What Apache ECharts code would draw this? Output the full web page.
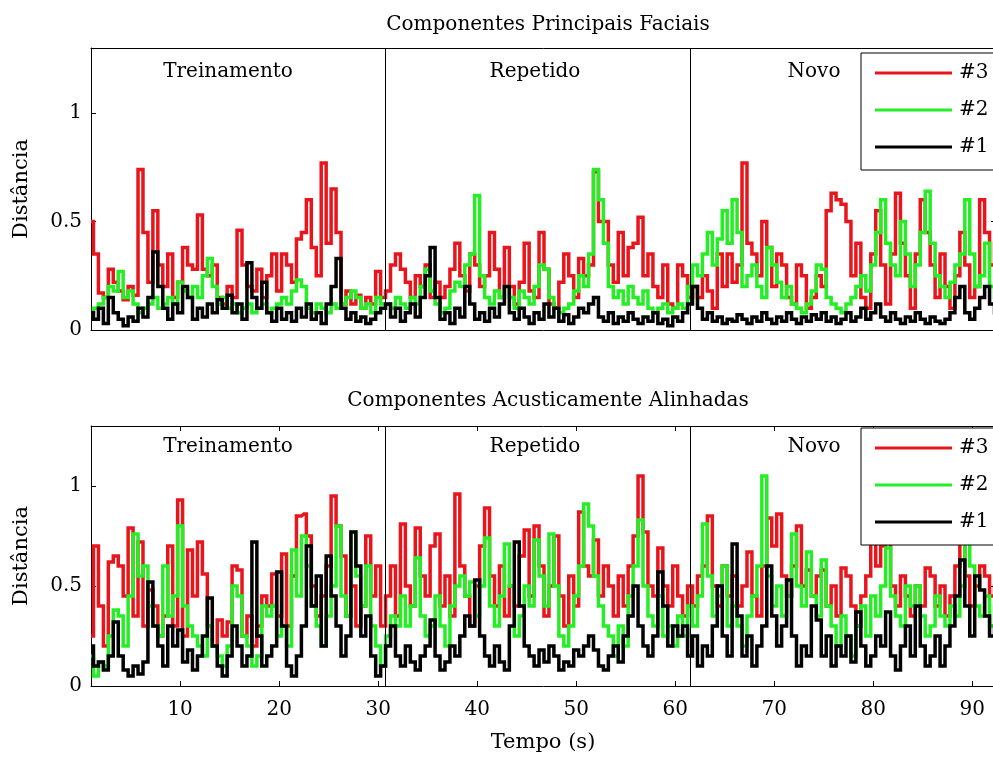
<!DOCTYPE html>
<html>
<head>
<meta charset="utf-8">
<title>Componentes Principais Faciais / Componentes Acusticamente Alinhadas</title>
<script src="https://cdn.jsdelivr.net/npm/echarts@6/dist/echarts.min.js"></script>
<style>
  html, body { margin: 0; padding: 0; background: #fff; overflow: hidden; }
  #chart { width: 1000px; height: 758px; }
</style>
</head>
<body>
<div id="chart"></div>
<script>
// Sampling of every distance series: first sample time and step (seconds)
const t0 = 1;
const dt = 0.5;

// Segment boundaries (s) and segment names
const sectionBounds = [30.7, 61.5];
const sections = ['Treinamento', 'Repetido', 'Novo'];

// Tick values
const xTicks = [10, 20, 30, 40, 50, 60, 70, 80, 90];
const yTicks = [0, 0.5, 1];

// Componentes Principais Faciais
const topRed = [
  0.50,0.35,0.17,0.15,0.28,0.22,0.18,0.14,0.20,0.16,
  0.74,0.45,0.22,0.55,0.30,0.20,0.35,0.15,0.22,0.38,
  0.30,0.28,0.53,0.28,0.25,0.30,0.15,0.12,0.20,0.15,
  0.46,0.30,0.20,0.18,0.28,0.15,0.25,0.35,0.18,0.35,
  0.30,0.22,0.42,0.45,0.60,0.38,0.25,0.77,0.40,0.65,
  0.45,0.12,0.18,0.12,0.16,0.10,0.15,0.12,0.27,0.15,
  0.18,0.30,0.35,0.28,0.22,0.15,0.25,0.20,0.30,0.15,
  0.22,0.15,0.20,0.28,0.40,0.25,0.18,0.35,0.30,0.20,
  0.25,0.45,0.28,0.15,0.38,0.20,0.12,0.22,0.40,0.18,
  0.15,0.45,0.28,0.12,0.10,0.22,0.35,0.25,0.15,0.33,
  0.25,0.30,0.73,0.50,0.50,0.30,0.22,0.45,0.25,0.38,
  0.40,0.52,0.25,0.35,0.20,0.15,0.30,0.12,0.10,0.30,
  0.25,0.15,0.20,0.15,0.25,0.18,0.10,0.35,0.20,0.35,
  0.22,0.30,0.77,0.40,0.35,0.25,0.50,0.38,0.20,0.35,
  0.30,0.15,0.12,0.30,0.25,0.10,0.15,0.25,0.20,0.55,
  0.63,0.60,0.58,0.50,0.25,0.40,0.15,0.10,0.35,0.55,
  0.30,0.12,0.35,0.63,0.40,0.25,0.10,0.35,0.60,0.45,
  0.30,0.15,0.35,0.20,0.10,0.25,0.45,0.30,0.15,0.20,
  0.60,0.45,0.30,0.40
];
const topGreen = [
  0.08,0.10,0.12,0.15,0.20,0.18,0.27,0.15,0.18,0.12,
  0.08,0.10,0.12,0.15,0.10,0.12,0.15,0.12,0.22,0.18,
  0.15,0.20,0.15,0.25,0.33,0.20,0.12,0.15,0.10,0.12,
  0.08,0.10,0.12,0.08,0.10,0.12,0.08,0.10,0.12,0.15,
  0.12,0.18,0.23,0.20,0.10,0.08,0.12,0.10,0.08,0.12,
  0.10,0.12,0.15,0.18,0.15,0.10,0.12,0.08,0.15,0.12,
  0.12,0.10,0.15,0.12,0.10,0.15,0.12,0.20,0.28,0.18,
  0.12,0.08,0.10,0.18,0.22,0.20,0.30,0.35,0.62,0.25,
  0.15,0.12,0.18,0.15,0.20,0.15,0.10,0.18,0.15,0.12,
  0.20,0.30,0.28,0.15,0.10,0.08,0.10,0.12,0.18,0.25,
  0.20,0.35,0.74,0.60,0.40,0.20,0.15,0.18,0.12,0.20,
  0.15,0.12,0.18,0.10,0.08,0.10,0.12,0.08,0.10,0.12,
  0.10,0.20,0.30,0.25,0.35,0.45,0.30,0.42,0.55,0.40,
  0.60,0.45,0.20,0.25,0.30,0.20,0.15,0.38,0.30,0.22,
  0.15,0.20,0.12,0.10,0.08,0.12,0.18,0.30,0.28,0.15,
  0.12,0.10,0.08,0.12,0.15,0.20,0.25,0.18,0.30,0.45,
  0.60,0.40,0.30,0.25,0.50,0.35,0.20,0.30,0.45,0.64,
  0.40,0.25,0.20,0.15,0.22,0.30,0.35,0.60,0.35,0.20,
  0.25,0.40,0.20,0.15
];
const topBlack = [
  0.08,0.05,0.10,0.03,0.15,0.08,0.05,0.02,0.06,0.04,
  0.10,0.06,0.15,0.36,0.20,0.10,0.05,0.12,0.08,0.20,
  0.15,0.05,0.10,0.06,0.12,0.08,0.14,0.10,0.16,0.08,
  0.12,0.05,0.31,0.15,0.10,0.22,0.08,0.04,0.10,0.05,
  0.08,0.04,0.10,0.06,0.12,0.05,0.08,0.03,0.12,0.20,
  0.33,0.10,0.05,0.08,0.04,0.06,0.03,0.05,0.08,0.10,
  0.12,0.06,0.10,0.04,0.08,0.12,0.06,0.15,0.25,0.38,
  0.15,0.05,0.08,0.03,0.10,0.06,0.20,0.12,0.05,0.08,
  0.04,0.10,0.06,0.12,0.20,0.08,0.05,0.10,0.06,0.03,
  0.08,0.05,0.12,0.06,0.10,0.04,0.07,0.03,0.06,0.10,
  0.08,0.12,0.15,0.06,0.04,0.08,0.03,0.06,0.04,0.08,
  0.05,0.03,0.06,0.04,0.08,0.03,0.05,0.02,0.06,0.04,
  0.08,0.12,0.20,0.10,0.05,0.08,0.04,0.06,0.03,0.05,
  0.04,0.07,0.05,0.03,0.06,0.04,0.08,0.05,0.03,0.06,
  0.04,0.08,0.05,0.03,0.06,0.04,0.07,0.05,0.08,0.04,
  0.06,0.03,0.05,0.08,0.04,0.06,0.10,0.05,0.08,0.12,
  0.06,0.04,0.08,0.05,0.03,0.06,0.04,0.08,0.05,0.03,
  0.06,0.04,0.03,0.05,0.08,0.15,0.20,0.08,0.05,0.10,
  0.15,0.20,0.12,0.08
];

// Componentes Acusticamente Alinhadas
const botRed = [
  0.25,0.70,0.40,0.20,0.62,0.65,0.60,0.45,0.79,0.35,
  0.72,0.30,0.48,0.40,0.25,0.35,0.70,0.30,0.93,0.25,
  0.68,0.45,0.72,0.56,0.30,0.20,0.33,0.25,0.32,0.60,
  0.58,0.25,0.35,0.20,0.30,0.45,0.40,0.56,0.35,0.66,
  0.30,0.55,0.85,0.86,0.75,0.50,0.35,0.45,0.60,0.95,
  0.80,0.65,0.35,0.50,0.30,0.40,0.75,0.45,0.60,0.30,
  0.45,0.60,0.35,0.81,0.50,0.40,0.79,0.55,0.45,0.70,
  0.76,0.40,0.55,0.35,0.96,0.60,0.45,0.30,0.50,0.70,
  0.89,0.55,0.40,0.60,0.35,0.50,0.40,0.65,0.78,0.45,
  0.80,0.60,0.35,0.50,0.75,0.45,0.30,0.55,0.40,0.87,
  0.60,0.55,0.73,0.45,0.60,0.50,0.35,0.55,0.40,0.60,
  0.75,1.05,0.77,0.50,0.45,0.69,0.50,0.40,0.60,0.45,
  0.35,0.50,0.40,0.55,0.60,0.85,0.50,0.40,0.60,0.45,
  0.55,0.40,0.50,0.67,0.45,0.35,0.60,0.84,0.70,0.86,
  0.55,0.45,0.60,0.80,0.50,0.58,0.45,0.55,0.58,0.40,
  0.50,0.35,0.59,0.55,0.40,0.30,0.45,0.55,0.74,0.60,
  0.70,0.76,0.50,0.40,0.55,0.45,0.35,0.50,0.40,0.59,
  0.55,0.40,0.50,0.35,0.45,0.60,0.74,0.55,0.40,0.50,
  0.60,0.55,0.45,0.50
];
const botGreen = [
  0.15,0.05,0.12,0.10,0.25,0.38,0.35,0.20,0.45,0.76,
  0.55,0.60,0.40,0.30,0.25,0.60,0.35,0.45,0.80,0.40,
  0.30,0.25,0.20,0.15,0.30,0.20,0.15,0.10,0.20,0.50,
  0.45,0.25,0.20,0.10,0.15,0.40,0.35,0.40,0.25,0.30,
  0.20,0.68,0.45,0.75,0.60,0.40,0.30,0.20,0.35,0.50,
  0.80,0.45,0.35,0.77,0.55,0.40,0.60,0.30,0.20,0.10,
  0.25,0.35,0.30,0.45,0.30,0.40,0.64,0.35,0.25,0.30,
  0.45,0.30,0.20,0.40,0.50,0.55,0.45,0.52,0.35,0.50,
  0.74,0.40,0.30,0.45,0.71,0.50,0.25,0.35,0.50,0.40,
  0.73,0.55,0.40,0.76,0.50,0.25,0.20,0.30,0.45,0.60,
  0.91,0.80,0.55,0.40,0.30,0.25,0.15,0.30,0.20,0.45,
  0.60,0.83,0.50,0.35,0.30,0.45,0.25,0.30,0.20,0.35,
  0.25,0.40,0.30,0.45,0.81,0.55,0.35,0.45,0.60,0.30,
  0.40,0.30,0.20,0.35,0.45,0.60,1.05,0.55,0.40,0.50,
  0.35,0.45,0.76,0.50,0.40,0.67,0.45,0.35,0.63,0.40,
  0.30,0.20,0.35,0.25,0.15,0.30,0.40,0.25,0.45,0.35,
  0.50,0.69,0.45,0.35,0.30,0.50,0.40,0.50,0.35,0.25,
  0.30,0.45,0.35,0.30,0.40,0.35,0.50,0.73,0.60,0.40,
  0.35,0.45,0.30,0.40
];
const botBlack = [
  0.20,0.10,0.12,0.08,0.15,0.32,0.15,0.08,0.05,0.10,
  0.06,0.12,0.52,0.30,0.20,0.10,0.30,0.20,0.28,0.12,
  0.18,0.08,0.15,0.25,0.44,0.20,0.10,0.05,0.15,0.30,
  0.20,0.10,0.15,0.72,0.25,0.10,0.15,0.20,0.57,0.30,
  0.10,0.05,0.15,0.30,0.70,0.40,0.55,0.20,0.65,0.45,
  0.30,0.15,0.25,0.77,0.60,0.25,0.35,0.15,0.05,0.10,
  0.20,0.30,0.15,0.10,0.20,0.12,0.08,0.15,0.20,0.33,
  0.15,0.08,0.12,0.20,0.15,0.25,0.35,0.30,0.53,0.25,
  0.15,0.10,0.20,0.12,0.08,0.30,0.72,0.40,0.20,0.15,
  0.10,0.18,0.12,0.20,0.15,0.08,0.12,0.10,0.18,0.15,
  0.20,0.25,0.18,0.10,0.08,0.15,0.20,0.12,0.25,0.35,
  0.50,0.30,0.20,0.15,0.25,0.57,0.40,0.20,0.30,0.25,
  0.30,0.15,0.25,0.10,0.20,0.15,0.30,0.50,0.25,0.15,
  0.71,0.35,0.15,0.25,0.10,0.20,0.30,0.60,0.35,0.20,
  0.30,0.53,0.25,0.10,0.20,0.15,0.40,0.33,0.15,0.25,
  0.10,0.20,0.15,0.25,0.12,0.37,0.20,0.10,0.15,0.25,
  0.20,0.37,0.15,0.08,0.20,0.30,0.15,0.40,0.20,0.10,
  0.15,0.25,0.10,0.20,0.30,0.45,0.63,0.40,0.25,0.55,
  0.48,0.35,0.25,0.30
];

const FONT = 'DejaVu Serif';
const RED = '#e8161c';
const GREEN = '#26ee26';
const BLACK = '#000000';

const xMin = 1, xMax = 92.4, yMin = 0, yMax = 1.3;

function pairs(values) {
  return values.map((v, i) => [t0 + i * dt, v]);
}

const grids = [
  { left: 91, top: 48, width: 905, height: 282 },
  { left: 91, top: 426, width: 905, height: 260 }
];

function xAxisPair(gridIndex, withTicks, withLabels) {
  const base = {
    type: 'value', gridIndex, min: xMin, max: xMax,
    splitLine: { show: false },
    axisLine: { show: true, onZero: false, lineStyle: { color: BLACK, width: 1 } }
  };
  const tick = withTicks
    ? { show: true, inside: true, length: 5, customValues: xTicks, lineStyle: { color: BLACK } }
    : { show: false };
  return [
    Object.assign({}, base, {
      position: 'bottom', axisTick: tick,
      axisLabel: withLabels
        ? { show: true, customValues: xTicks, margin: 14, color: BLACK, fontFamily: FONT, fontSize: 20 }
        : { show: false }
    }),
    Object.assign({}, base, { position: 'top', axisTick: tick, axisLabel: { show: false } })
  ];
}

function yAxisPair(gridIndex) {
  const base = {
    type: 'value', gridIndex, min: yMin, max: yMax,
    splitLine: { show: false },
    axisLine: { show: true, onZero: false, lineStyle: { color: BLACK, width: 1 } },
    axisTick: { show: true, inside: true, length: 5, customValues: yTicks, lineStyle: { color: BLACK } }
  };
  return [
    Object.assign({}, base, {
      position: 'left',
      axisLabel: { show: true, customValues: yTicks, margin: 9, color: BLACK, fontFamily: FONT, fontSize: 20 }
    }),
    Object.assign({}, base, { position: 'right', axisLabel: { show: false } })
  ];
}

function lineSeries(name, values, color, axisIndex, withBounds) {
  const s = {
    name, type: 'line', xAxisIndex: axisIndex, yAxisIndex: axisIndex,
    data: pairs(values), step: 'middle', showSymbol: false, symbol: 'none',
    lineStyle: { color, width: 3.5, join: 'miter' }, itemStyle: { color },
    emphasis: { disabled: true }, silent: true, clip: true
  };
  if (withBounds) {
    s.markLine = {
      silent: true, symbol: ['none', 'none'], animation: false,
      label: { show: false },
      lineStyle: { color: BLACK, width: 1, type: 'solid' },
      emphasis: { disabled: true },
      data: sectionBounds.map(b => ({ xAxis: b }))
    };
  }
  return s;
}

function legendBox(top) {
  return {
    orient: 'vertical', left: 861, top,
    data: ['#3', '#2', '#1'],
    icon: 'rect', itemWidth: 77, itemHeight: 3, itemGap: 15,
    padding: [9, 30, 12, 14],
    backgroundColor: '#ffffff', borderColor: BLACK, borderWidth: 1, borderRadius: 0,
    textStyle: { color: BLACK, fontFamily: FONT, fontSize: 20, lineHeight: 22, padding: [0, 0, 0, 2] },
    selectedMode: false, z: 10
  };
}

function centeredText(text, x, y, size, rotation) {
  return {
    type: 'text', x, y, rotation: rotation || 0, z: 5,
    style: { text, font: size + 'px "' + FONT + '"', fill: BLACK, align: 'center', verticalAlign: 'middle' }
  };
}

// Section captions sit at the same pixel rows in both panels
const sectionCenters = [228, 535, 814];
function sectionTexts(y) {
  return sections.map((s, i) => centeredText(s, sectionCenters[i], y, 20));
}

const chart = echarts.init(document.getElementById('chart'), null, { renderer: 'canvas' });

chart.setOption({
  animation: false,
  backgroundColor: '#ffffff',
  title: [
    { text: 'Componentes Principais Faciais', left: 543, top: 10, textAlign: 'center',
      textStyle: { fontFamily: FONT, fontSize: 20, fontWeight: 'normal', color: BLACK } },
    { text: 'Componentes Acusticamente Alinhadas', left: 543, top: 386, textAlign: 'center',
      textStyle: { fontFamily: FONT, fontSize: 20, fontWeight: 'normal', color: BLACK } }
  ],
  grid: grids,
  xAxis: [].concat(xAxisPair(0, false, false), xAxisPair(1, true, true)),
  yAxis: [].concat(yAxisPair(0), yAxisPair(1)),
  legend: [legendBox(53), legendBox(428)],
  series: [
    lineSeries('#3', topRed, RED, 0, false),
    lineSeries('#2', topGreen, GREEN, 0, false),
    lineSeries('#1', topBlack, BLACK, 0, true),
    lineSeries('#3', botRed, RED, 2, false),
    lineSeries('#2', botGreen, GREEN, 2, false),
    lineSeries('#1', botBlack, BLACK, 2, true)
  ],
  graphic: [].concat(
    sectionTexts(72),
    sectionTexts(447),
    [
      centeredText('Distância', 22, 189, 21, Math.PI / 2),
      centeredText('Distância', 22, 556, 21, Math.PI / 2),
      centeredText('Tempo (s)', 543, 743, 21)
    ]
  )
});
</script>
</body>
</html>
